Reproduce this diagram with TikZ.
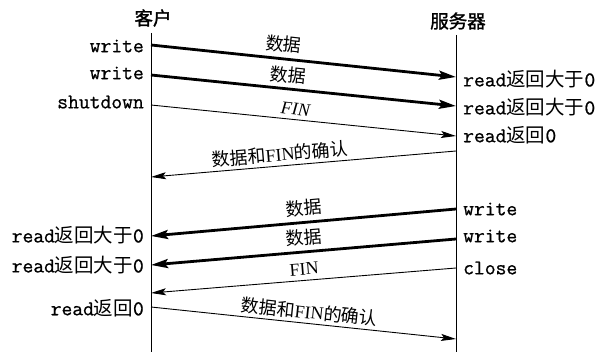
\documentclass[tikz,border=0pt]{standalone}
\usepackage{fontspec}
\usetikzlibrary{arrows.meta}
\newfontfamily\cjk{Noto Sans CJK SC}
\newfontfamily\cjkt{Noto Sans CJK SC}[FakeBold=1.5]
\newfontfamily\monob{Latin Modern Mono}[FakeBold=0.8]
\newfontfamily\serifl{Liberation Serif}
\newcommand{\zh}[1]{{\cjk\fontsize{19.5}{19.5}\selectfont #1}}
\newcommand{\tts}[1]{{\monob\fontsize{21}{21}\selectfont #1}}
\begin{document}
\begin{tikzpicture}[x=1pt,y=-1pt,
  lifeline/.style={line width=1pt},
  thickmsg/.style={line width=2.8pt,-{Stealth[length=17pt,width=9pt,inset=3pt]}},
  thinmsg/.style={line width=0.9pt,-{Stealth[length=15pt,width=7pt,inset=3pt]}},
  titlebox/.style={inner sep=0pt,font=\cjkt\fontsize{18.5}{18.5}\selectfont},
  lbl/.style={inner sep=0pt,font=\cjk\fontsize{18}{18}\selectfont},
  latlbl/.style={inner sep=0pt,font=\serifl\fontsize{18}{18}\selectfont},
  lefttxt/.style={inner sep=0pt,anchor=east},
  righttxt/.style={inner sep=0pt,anchor=west}]
\useasboundingbox (0,0) rectangle (600,353);
% titles
\node[titlebox] (ct) at (153,18) {客户};
\node[titlebox] (st) at (458,21) {服务器};
% lifelines
\coordinate (ctop) at (151,33); \coordinate (cbot) at (151,352);
\coordinate (stop) at (456,35); \coordinate (sbot) at (456,352);
\draw[lifeline] (ctop) -- (cbot);
\draw[lifeline] (stop) -- (sbot);
% message end points
\coordinate (c1) at (151,45);  \coordinate (s1) at (456,77);
\coordinate (c2) at (151,75);  \coordinate (s2) at (456,106);
\coordinate (c3) at (151,105); \coordinate (s3) at (456,136);
\coordinate (s4) at (456,151); \coordinate (c4) at (151,177);
\coordinate (s5) at (456,209); \coordinate (c5) at (151,236);
\coordinate (s6) at (456,239); \coordinate (c6) at (151,265);
\coordinate (s7) at (456,268); \coordinate (c7) at (151,293);
\coordinate (c8) at (151,307); \coordinate (s8) at (456,339);
% messages
\draw[thickmsg] (c1) -- node[lbl,sloped,above=5pt,pos=0.43] (m1) {数据} (s1);
\draw[thickmsg] (c2) -- node[lbl,sloped,above=4pt,pos=0.446] (m2) {数据} (s2);
\draw[thinmsg] (c3) -- node[latlbl,sloped,above=4pt,pos=0.47] (m3) {\itshape FIN} (s3);
\draw[thinmsg] (s4) -- node[lbl,sloped,above=3pt,pos=0.574] (m4) {数据和{\serifl FIN}的确认} (c4);
\draw[thickmsg] (s5) -- node[lbl,sloped,above=5pt,pos=0.495] (m5) {数据} (c5);
\draw[thickmsg] (s6) -- node[lbl,sloped,above=5pt,pos=0.495] (m6) {数据} (c6);
\draw[thinmsg] (s7) -- node[latlbl,sloped,above=5pt,pos=0.495] (m7) {FIN} (c7);
\draw[thinmsg] (c8) -- node[lbl,sloped,above=3pt,pos=0.515] (m8) {数据和{\serifl FIN}的确认} (s8);
% client side texts
\node[lefttxt] (lw1) at (144,46) {\tts{write}};
\node[lefttxt] (lw2) at (144,73) {\tts{write}};
\node[lefttxt] (lsd) at (144,102) {\tts{shutdown}};
\node[lefttxt] (lr1) at (144,235) {\tts{read}\zh{返回大于}\tts{0}};
\node[lefttxt] (lr2) at (144,265) {\tts{read}\zh{返回大于}\tts{0}};
\node[lefttxt] (lr3) at (144,308) {\tts{read}\zh{返回}\tts{0}};
% server side texts
\node[righttxt] (rr1) at (463,79) {\tts{read}\zh{返回大于}\tts{0}};
\node[righttxt] (rr2) at (463,107) {\tts{read}\zh{返回大于}\tts{0}};
\node[righttxt] (rr3) at (463,135) {\tts{read}\zh{返回}\tts{0}};
\node[righttxt] (rw1) at (463,209) {\tts{write}};
\node[righttxt] (rw2) at (463,236) {\tts{write}};
\node[righttxt] (rcl) at (463,268) {\tts{close}};
\end{tikzpicture}
\end{document}
